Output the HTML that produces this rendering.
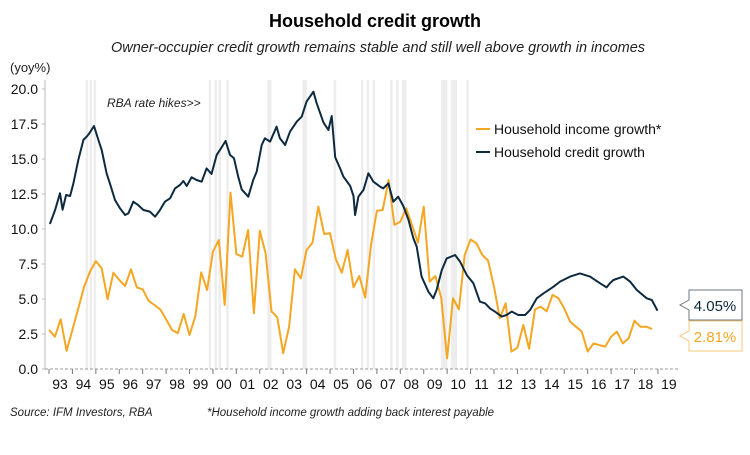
<!DOCTYPE html>
<html><head><meta charset="utf-8"><style>
body{margin:0;background:#fff;font-family:"Liberation Sans",sans-serif;}
svg text{font-family:"Liberation Sans",sans-serif;}
</style></head><body>
<svg id="chart" width="750" height="450" viewBox="0 0 750 450">
<text x="375" y="27" text-anchor="middle" font-size="18" font-weight="bold" fill="#000">Household credit growth</text>
<text x="378" y="52" text-anchor="middle" font-size="14.5" font-style="italic" fill="#222">Owner-occupier credit growth remains stable and still well above growth in incomes</text>
<text x="10" y="72" font-size="13" fill="#222">(yoy%)</text>
<g id="bands"></g>
<g id="axes"></g>
<text x="107" y="107" font-size="12" font-style="italic" fill="#222">RBA rate hikes&gt;&gt;</text>
<g id="series"></g>
<g>
<line x1="476" y1="129" x2="490" y2="129" stroke="#F5A623" stroke-width="2"/>
<text x="494" y="134" font-size="14" fill="#111">Household income growth*</text>
<line x1="476" y1="152" x2="490" y2="152" stroke="#0E2A3F" stroke-width="2"/>
<text x="494" y="157" font-size="14" fill="#111">Household credit growth</text>
</g>
<g>
<path d="M689,290 H742 V320 H689 V310 L680,305 L689,300 Z" fill="#fff" stroke="#6b7780" stroke-width="1"/>
<text x="715" y="311" text-anchor="middle" font-size="15" fill="#0E2A3F">4.05%</text>
</g>
<g>
<path d="M689,321 H742 V351 H689 V341 L680,336 L689,331 Z" fill="#fff" stroke="#F5C877" stroke-width="1"/>
<text x="715" y="342" text-anchor="middle" font-size="15" fill="#F5A623">2.81%</text>
</g>
<text x="10" y="416" font-size="11.5" font-style="italic" fill="#222">Source: IFM Investors, RBA</text>
<text x="207" y="416" font-size="11.5" font-style="italic" fill="#222">*Household income growth adding back interest payable</text>
</svg>
<script>
const yTicks=[0,2.5,5,7.5,10,12.5,15,17.5,20];
const yTickLabels=["0.0","2.5","5.0","7.5","10.0","12.5","15.0","17.5","20.0"];
const xYears=[1993,1994,1995,1996,1997,1998,1999,2000,2001,2002,2003,2004,2005,2006,2007,2008,2009,2010,2011,2012,2013,2014,2015,2016,2017,2018,2019];
const xTickLabels=["93","94","95","96","97","98","99","00","01","02","03","04","05","06","07","08","09","10","11","12","13","14","15","16","17","18","19"];
const hikeDates=[1994.62,1994.79,1994.96,1999.87,2000.12,2000.29,2000.62,2002.37,2002.45,2003.87,2003.96,2005.21,2006.37,2006.62,2006.87,2007.62,2007.87,2008.12,2008.21,2009.79,2009.87,2009.96,2010.21,2010.29,2010.37,2010.87];
const incomeStart=1993.0;
const incomeValues=[2.79,2.31,3.55,1.29,2.79,4.33,5.88,6.95,7.71,7.19,4.98,6.88,6.36,5.93,7.12,5.83,5.69,4.88,4.57,4.26,3.55,2.79,2.55,3.93,2.43,3.79,6.90,5.64,8.38,9.21,4.57,12.6,8.21,8.02,9.93,3.98,9.88,8.26,4.12,3.69,1.12,3.02,7.12,6.48,8.5,9.02,11.6,9.64,9.71,7.83,6.88,8.5,5.83,6.64,5.10,8.86,11.31,11.36,13.5,10.29,10.52,11.48,10.29,9.02,11.6,6.24,6.64,5.05,0.76,5.05,4.26,8.14,9.26,8.98,8.14,7.74,5.88,3.62,4.69,1.24,1.52,3.14,1.45,4.26,4.45,4.12,5.29,5.05,4.33,3.38,3.02,2.67,1.24,1.83,1.71,1.60,2.31,2.67,1.83,2.19,3.45,3.02,3.02,2.86];
const creditDates=[1993.04,1993.26,1993.47,1993.58,1993.73,1993.90,1994.04,1994.25,1994.47,1994.61,1994.72,1994.92,1995.11,1995.25,1995.46,1995.60,1995.82,1996.03,1996.25,1996.39,1996.60,1996.81,1997.03,1997.31,1997.53,1997.74,1997.95,1998.17,1998.38,1998.59,1998.74,1998.88,1999.09,1999.30,1999.52,1999.73,1999.94,2000.16,2000.37,2000.54,2000.73,2000.90,2001.08,2001.23,2001.51,2001.72,2001.87,2002.08,2002.22,2002.44,2002.72,2002.86,2003.08,2003.29,2003.58,2003.79,2004.00,2004.29,2004.43,2004.72,2004.93,2005.07,2005.22,2005.43,2005.57,2005.86,2006.00,2006.07,2006.21,2006.43,2006.64,2006.85,2007.14,2007.27,2007.49,2007.70,2007.91,2008.13,2008.34,2008.56,2008.70,2008.91,2009.20,2009.41,2009.55,2009.77,2009.98,2010.34,2010.55,2010.84,2011.12,2011.40,2011.62,2011.83,2012.04,2012.33,2012.54,2012.76,2013.04,2013.33,2013.54,2013.83,2014.11,2014.54,2014.82,2015.25,2015.67,2016.10,2016.53,2016.81,2016.95,2017.10,2017.52,2017.81,2018.10,2018.52,2018.74,2018.98];
const creditValues=[10.36,11.36,12.55,11.38,12.43,12.36,13.26,14.93,16.36,16.6,16.83,17.36,16.36,15.64,13.98,13.26,12.07,11.48,11.0,11.12,11.95,11.71,11.36,11.24,10.88,11.36,11.95,12.19,12.90,13.14,13.43,13.07,13.69,13.5,13.38,14.33,13.93,15.29,15.83,16.29,15.29,15.05,13.74,12.83,12.31,13.5,14.1,16.0,16.48,16.24,17.31,16.48,16.0,16.95,17.67,18.02,19.1,19.81,18.98,17.6,17.07,18.07,15.12,14.33,13.74,13.07,12.36,11.0,12.31,12.79,13.98,13.38,13.02,12.9,13.26,11.95,12.31,11.64,10.69,9.33,8.74,6.6,5.52,5.05,5.64,7.07,7.9,8.14,7.67,6.71,6.12,4.81,4.69,4.33,4.1,3.74,3.86,4.1,3.86,3.86,4.21,5.05,5.4,5.88,6.24,6.6,6.83,6.6,6.12,5.83,6.12,6.36,6.6,6.24,5.64,5.05,4.93,4.17];

const NS="http://www.w3.org/2000/svg";
const X0=49,XPY=23.42,Y0=369,YPU=14;
function xs(t){return X0+(t-1993)*XPY;}
function ys(v){return Y0-v*YPU;}
function mk(tag,attrs,parent){const e=document.createElementNS(NS,tag);for(const k in attrs)e.setAttribute(k,attrs[k]);parent.appendChild(e);return e;}
const bands=document.getElementById('bands'),axes=document.getElementById('axes'),series=document.getElementById('series');
hikeDates.forEach(d=>{
  const r=mk('rect',{x:xs(d)-1.2,y:80,width:2.4,height:Y0-80,fill:'#ededed'},bands);
  
  
});
mk('line',{x1:45,y1:80,x2:45,y2:Y0,stroke:'#bbb','stroke-width':1},axes);
yTicks.forEach((v,i)=>{
  mk('line',{x1:42,y1:ys(v),x2:45,y2:ys(v),stroke:'#bbb'},axes);
  const t=mk('text',{x:38,y:ys(v)+5,'text-anchor':'end','font-size':14,fill:'#111'},axes);
  t.textContent=yTickLabels[i];
  
  
});
mk('line',{x1:45,y1:Y0,x2:678,y2:Y0,stroke:'#999','stroke-dasharray':'3,2'},axes);
xYears.forEach((yr,i)=>{
  mk('line',{x1:xs(yr),y1:Y0,x2:xs(yr),y2:Y0+5,stroke:'#777'},axes);
  const t=mk('text',{x:xs(yr)+11,y:Y0+20,'text-anchor':'middle','font-size':14,fill:'#111'},axes);
  t.textContent=xTickLabels[i];
  
  
});
const ip=incomeValues.map((v,i)=>xs(incomeStart+i*0.25).toFixed(1)+','+ys(v).toFixed(1)).join(' ');
const il=mk('polyline',{points:ip,fill:'none',stroke:'#F5A623','stroke-width':2,'stroke-linejoin':'round'},series);


const cp=creditValues.map((v,i)=>xs(creditDates[i]).toFixed(1)+','+ys(v).toFixed(1)).join(' ');
const cl=mk('polyline',{points:cp,fill:'none',stroke:'#0E2A3F','stroke-width':2,'stroke-linejoin':'round'},series);


</script>
</body></html>
